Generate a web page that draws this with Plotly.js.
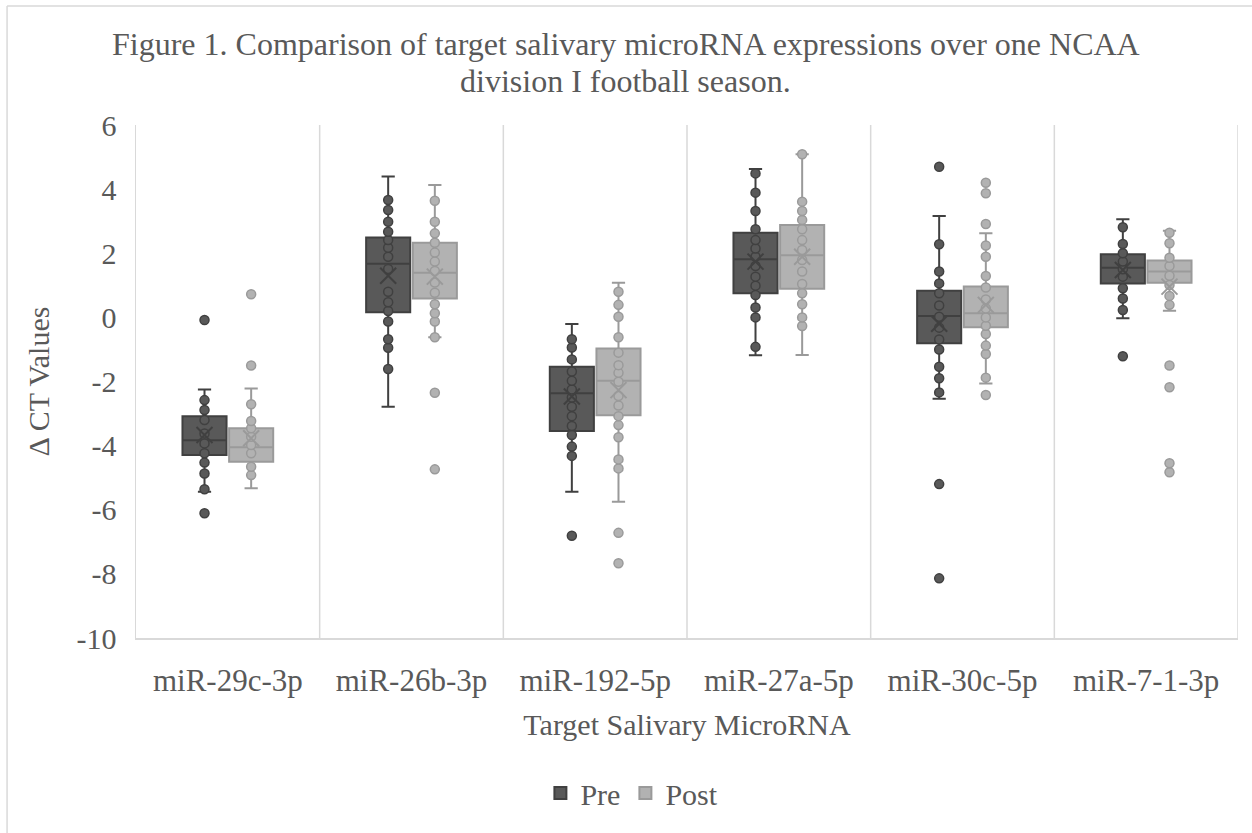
<!DOCTYPE html>
<html>
<head>
<meta charset="utf-8">
<script src="https://cdn.plot.ly/plotly-3.0.1.min.js"></script>
<style>
html,body{margin:0;padding:0;background:#fff;}
#chart{width:1252px;height:833px;}
</style>
</head>
<body>
<div id="chart"></div>
<script>
// Categories
var categories = ["miR-29c-3p", "miR-26b-3p", "miR-192-5p", "miR-27a-5p", "miR-30c-5p", "miR-7-1-3p"];

// Pre season box statistics
var preQ1     = [-4.29, 0.16, -3.54, 0.75, -0.81, 1.06];
var preMedian = [-3.83, 1.67, -2.37, 1.81, 0.04, 1.55];
var preQ3     = [-3.08, 2.49, -1.54, 2.64, 0.83, 1.97];
var preLower  = [-5.44, -2.79, -5.44, -1.18, -2.54, -0.03];
var preUpper  = [-2.25, 4.39, -0.21, 4.63, 3.16, 3.06];
var preMean   = [-3.67, 1.30, -2.47, 1.74, -0.20, 1.48];

// Post season box statistics
var postQ1     = [-4.50, 0.59, -3.05, 0.89, -0.31, 1.08];
var postMedian = [-4.05, 1.39, -1.98, 1.94, 0.13, 1.43];
var postQ3     = [-3.46, 2.33, -0.97, 2.88, 0.96, 1.77];
var postLower  = [-5.33, -0.62, -5.75, -1.17, -2.06, 0.21];
var postUpper  = [-2.22, 4.13, 1.08, 5.09, 2.62, 2.70];
var postMean   = [-3.77, 1.27, -2.27, 1.89, 0.39, 0.96];

// Individual points
var prePoints = [
  [-0.08, -2.58, -2.89, -3.20, -3.62, -3.93, -4.24, -4.53, -4.87, -5.36, -6.11],
  [3.66, 3.35, 2.98, 2.67, 2.41, 2.17, 1.89, 1.51, 0.80, 0.47, 0.20, -0.13, -0.68, -0.95, -1.61],
  [-0.68, -0.94, -1.31, -1.69, -1.98, -2.25, -2.50, -2.79, -3.08, -3.39, -3.67, -4.03, -4.32, -6.81],
  [4.49, 3.89, 3.32, 2.75, 2.41, 2.15, 1.89, 1.60, 1.27, 0.99, 0.70, 0.31, 0.00, -0.92],
  [4.70, 2.28, 1.43, 1.06, 0.75, 0.37, 0.02, -0.32, -0.69, -1.00, -1.54, -1.90, -2.34, -5.20, -8.14],
  [2.81, 2.29, 2.00, 1.74, 1.50, 1.27, 0.91, 0.59, 0.23, -1.21]
];
var postPoints = [
  [0.72, -1.50, -2.71, -3.23, -3.46, -3.72, -3.98, -4.24, -4.66, -4.92],
  [3.64, 2.98, 2.62, 2.33, 2.02, 1.74, 1.45, 1.09, 0.77, 0.41, 0.13, -0.13, -0.62, -2.35, -4.74],
  [0.80, 0.39, 0.02, -0.62, -1.10, -1.49, -1.73, -2.01, -2.45, -2.75, -3.08, -3.36, -3.74, -4.43, -4.71, -6.72, -7.67],
  [5.09, 3.61, 3.32, 3.04, 2.75, 2.41, 2.10, 1.79, 1.43, 1.04, 0.75, 0.41, 0.00, -0.27],
  [4.20, 3.87, 2.91, 2.24, 1.89, 1.29, 0.93, 0.56, 0.28, 0.00, -0.26, -0.52, -0.88, -1.14, -1.88, -2.42],
  [2.64, 2.31, 1.86, 1.60, 1.30, 1.01, 0.67, 0.39, -1.50, -2.18, -4.55, -4.83]
];

var seriesNames = ["Pre", "Post"];
var titleLines = ["Figure 1. Comparison of target salivary microRNA expressions over one NCAA",
                  "division I football season."];
var yTicks = [-10, -8, -6, -4, -2, 0, 2, 4, 6];
var yTickLabels = ["-10", "-8", "-6", "-4", "-2", "0", "2", "4", "6"];

var OFFSET = 0.127, BOXW = 0.24;
var idx = categories.map(function(_, i){ return i; });
var prePos = idx.map(function(i){ return i - OFFSET; });
var postPos = idx.map(function(i){ return i + OFFSET; });

function boxTrace(name, pos, q1, med, q3, lo, hi, pts, fill, line) {
  return {
    type: 'box', name: name, x: pos, y: pts,
    q1: q1, median: med, q3: q3, lowerfence: lo, upperfence: hi,
    boxpoints: 'all', jitter: 0, pointpos: 0, width: BOXW,
    whiskerwidth: 0.3,
    fillcolor: fill,
    line: {color: line, width: 2},
    marker: {color: fill, size: 9, line: {color: line, width: 1.5}},
    hoverinfo: 'skip'
  };
}
function meanTrace(pos, mean, line) {
  return {
    type: 'scatter', mode: 'markers', x: pos, y: mean, showlegend: false,
    marker: {symbol: 'x-thin-open', size: 16, color: line, line: {color: line, width: 2}},
    hoverinfo: 'skip'
  };
}

var data = [
  boxTrace(seriesNames[0], prePos, preQ1, preMedian, preQ3, preLower, preUpper, prePoints, '#595959', '#404040'),
  boxTrace(seriesNames[1], postPos, postQ1, postMedian, postQ3, postLower, postUpper, postPoints, '#b2b2b2', '#9a9a9a'),
  meanTrace(prePos, preMean, '#404040'),
  meanTrace(postPos, postMean, '#9a9a9a')
];

var shapes = [];
for (var i = 0; i < categories.length; i++) {
  shapes.push({type: 'line', xref: 'x', yref: 'paper', x0: i + 0.5, x1: i + 0.5, y0: 0, y1: 1,
               line: {color: '#d9d9d9', width: 1.5}, layer: 'below'});
}
// chart-area border (left and top edges)
shapes.push({type: 'line', xref: 'paper', yref: 'paper', x0: -0.1170, x1: -0.1170, y0: -0.4, y1: 1.232,
             line: {color: '#d9d9d9', width: 1.5}});
shapes.push({type: 'line', xref: 'paper', yref: 'paper', x0: -0.1170, x1: 1.2, y0: 1.232, y1: 1.232,
             line: {color: '#d9d9d9', width: 1.5}});

var FONT = 'Liberation Serif, Times New Roman, serif';
var annotations = [
  {text: titleLines[0], xref: 'paper', yref: 'paper', x: 0.4446, y: 1.1579, xanchor: 'center', yanchor: 'middle',
   showarrow: false, font: {family: FONT, size: 32, color: '#595959'}},
  {text: titleLines[1], xref: 'paper', yref: 'paper', x: 0.4446, y: 1.0858, xanchor: 'center', yanchor: 'middle',
   showarrow: false, font: {family: FONT, size: 32, color: '#595959'}}
];

var layout = {
  width: 1252, height: 833,
  margin: {l: 136, r: 14, t: 125, b: 195},
  paper_bgcolor: '#ffffff', plot_bgcolor: '#ffffff',
  font: {family: FONT, color: '#595959', size: 30},
  showlegend: true,
  legend: {
    orientation: 'h', x: 0.45, xanchor: 'center', y: -0.302, yanchor: 'middle',
    font: {family: FONT, size: 30, color: '#595959'}, itemwidth: 30, traceorder: 'normal'
  },
  xaxis: {
    range: [-0.5, categories.length - 0.5],
    tickvals: idx, ticktext: categories,
    showgrid: false, zeroline: false,
    showline: true, linecolor: '#d9d9d9', linewidth: 1.5,
    ticks: '', ticklabelstandoff: 14,
    tickfont: {family: FONT, size: 31, color: '#595959'},
    title: {text: 'Target Salivary MicroRNA', font: {family: FONT, size: 30, color: '#595959'}, standoff: 17},
    fixedrange: true
  },
  yaxis: {
    range: [-10, 6], tickvals: yTicks, ticktext: yTickLabels,
    showgrid: false, zeroline: false,
    showline: true, linecolor: '#d9d9d9', linewidth: 1.5,
    ticks: '', ticklabelstandoff: 12,
    tickfont: {family: FONT, size: 30, color: '#595959'},
    title: {text: 'Δ CT Values', font: {family: FONT, size: 30, color: '#595959'}, standoff: 18},
    fixedrange: true
  },
  annotations: annotations,
  shapes: shapes
};

Plotly.newPlot('chart', data, layout, {staticPlot: true, displayModeBar: false});
</script>
</body>
</html>
